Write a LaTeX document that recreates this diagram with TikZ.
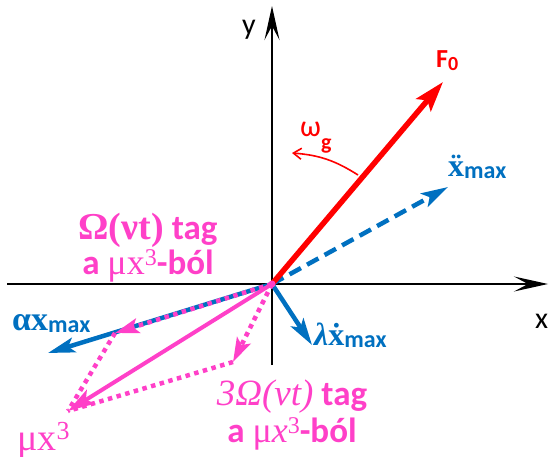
\documentclass[tikz,border=0pt]{standalone}
\usepackage{fontspec}
\setmainfont{Carlito}
\newfontfamily\grk{Liberation Serif}
\usetikzlibrary{arrows.meta}
\definecolor{pinkc}{RGB}{255,64,200}
\definecolor{bluec}{RGB}{0,112,192}
\definecolor{redc}{RGB}{255,0,0}
\newcommand{\fs}[1]{\fontsize{#1}{#1}\selectfont}
\newcommand{\lowsub}[3]{\raisebox{#1}{\fs{#2}#3}}
\newcommand{\dotover}[2]{\ooalign{#2\cr\hfil#1\hfil\cr}}
\tikzset{
  axis/.style={line width=1.3pt, black, -{Stealth[length=34pt,width=15pt,inset=14pt]}},
  vec/.style={line width=4.5pt, -{Stealth[length=27pt,width=15pt,inset=6pt]}},
  pinkdot/.style={pinkc, line width=4.5pt, dash pattern=on 4.5pt off 4.5pt},
  lbl/.style={inner sep=0pt, anchor=base west, font=\fs{30}},
  plbl/.style={inner sep=0pt, anchor=base, text=pinkc, font=\fs{35}\bfseries},
  blbl/.style={inner sep=0pt, anchor=base west, text=bluec, font=\fs{31}\bfseries},
}
\begin{document}
\begin{tikzpicture}[x=1pt,y=-1pt]
\useasboundingbox (0,0) rectangle (549,457);
\coordinate (O) at (272,284);
\coordinate (xs) at (7,284);
\coordinate (xe) at (548,284);
\coordinate (ys) at (272,365);
\coordinate (ye) at (272,6);
\coordinate (F) at (443,82);
\coordinate (A) at (448,187);
\coordinate (L) at (312,345);
\coordinate (X) at (48,353);
\coordinate (P1) at (115,333);
\coordinate (P3) at (233,362);
\coordinate (M) at (68,411);
\coordinate (W1) at (358,175);
\coordinate (W2) at (292,153);
% axes
\draw[axis] (xs) -- (xe);
\draw[axis] (ys) -- (ye);
\node[lbl] (ylab) at (242,35) {y};
\node[lbl] (xlab) at (535,328) {x};
% blue vectors
\draw[vec, bluec] (O) -- (X);
\draw[vec, bluec, dash pattern=on 13pt off 7pt] (O) -- (A);
\draw[vec, bluec] (O) -- (L);
% red force
\draw[vec, redc, line width=5.5pt, -{Stealth[length=30pt,width=19pt,inset=6pt]}] (O) -- (F);
\draw[redc, line width=1.6pt, -{Straight Barb[length=8pt,width=11pt]}] (W1) to[bend right=14] (W2);
% pink
\draw[pinkdot] (P1) -- (M);
\draw[pinkdot] (P3) -- (M);
\draw[pinkc, line width=4pt, -{Stealth[length=27pt,width=16pt,inset=6pt]}] (O) -- (M);
\draw[pinkdot, -{Stealth[length=24pt,width=15pt,inset=5pt]}] (O) -- (P1);
\draw[pinkdot, -{Stealth[length=24pt,width=15pt,inset=5pt]}] (O) -- (P3);
\fill[pinkc] (O) circle (3.5pt);
% labels
\node[inner sep=0pt, anchor=base west, text=redc, font=\fs{26}\bfseries] (Flab) at (436,68) {F\lowsub{-3pt}{20}{0}};
\node[inner sep=0pt, anchor=base west, text=redc, font=\fs{30}] (wlab) at (300,137) {ω\lowsub{-13pt}{22}{\bfseries g}};
\node[blbl] (Alab) at (448,177) {{\grk\fs{32}\dotover{¨}{x}}\lowsub{-2pt}{24}{max}};
\node[blbl] (Llab) at (314,345) {{\grk\fs{32}\itshape λ\upshape\dotover{˙}{x}}\lowsub{-2pt}{24}{max}};
\node[blbl] (Xlab) at (12,330) {{\grk\fs{34}αx}\lowsub{-2pt}{24}{max}};
\node[plbl] (P1a) at (148,240) {{\grk\fs{38}Ω(νt)} tag};
\node[plbl] (P1b) at (148,274) {a {\grk\mdseries\fs{36}μx}\raisebox{9pt}{\grk\mdseries\fs{24}3}-ból};
\node[plbl] (P3a) at (292,405) {{\grk\mdseries\itshape\fs{37}3Ω(νt)} tag};
\node[plbl] (P3b) at (292,442) {a {\grk\mdseries\fs{36}μ\itshape x}\raisebox{9pt}{\grk\mdseries\fs{24}3}-ból};
\node[plbl, anchor=base west] (Mlab) at (17,450) {{\grk\mdseries\fs{38}μx}\raisebox{11pt}{\grk\mdseries\fs{26}3}};
\end{tikzpicture}
\end{document}
